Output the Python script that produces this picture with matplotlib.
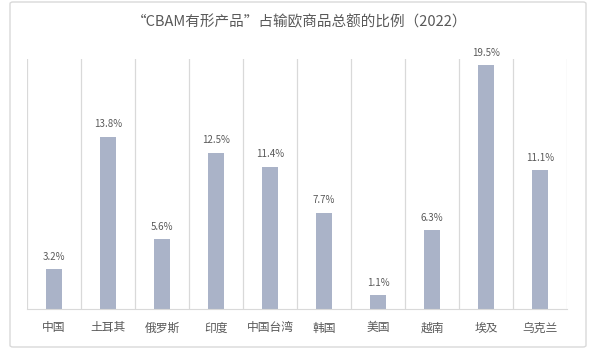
import matplotlib.pyplot as plt
import numpy as np
from matplotlib.patches import FancyBboxPatch

plt.rcParams['font.family'] = ['Noto Sans CJK SC', 'DejaVu Sans']

# datos
PAISES = ["中国", "土耳其", "俄罗斯", "印度", "中国台湾", "韩国", "美国", "越南", "埃及", "乌克兰"]
PROPORCION = [3.2, 13.8, 5.6, 12.5, 11.4, 7.7, 1.1, 6.3, 19.5, 11.1]
ETIQUETAS = ["3.2%", "13.8%", "5.6%", "12.5%", "11.4%", "7.7%", "1.1%", "6.3%", "19.5%", "11.1%"]
TITULO = "“CBAM有形产品”占输欧商品总额的比例（2022）"

COLOR_BARRA = "#aab3c8"
COLOR_TEXTO = "#595959"
COLOR_GRILLA = "#d9d9d9"

fig = plt.figure(figsize=(6.0, 3.49), dpi=100)

# marco exterior
marco = FancyBboxPatch((10 / 600, 2 / 349), 576 / 600, 345 / 349,
                       boxstyle="round,pad=0,rounding_size=0.005",
                       transform=fig.transFigure, facecolor="none",
                       edgecolor="#d9d9d9", linewidth=1.0, zorder=-1)
fig.patches.append(marco)

ax = fig.add_axes([27 / 600, 40 / 349, 540 / 600, 250 / 349])
x = np.arange(len(PAISES))
barras = ax.bar(x, PROPORCION, width=0.28, color=COLOR_BARRA, zorder=2)

for xi, v, txt in zip(x, PROPORCION, ETIQUETAS):
    ax.text(xi, v + 0.6, txt, ha="center", va="bottom", fontsize=7, color=COLOR_TEXTO)

ax.set_xlim(-0.5, len(PAISES) - 0.5)
ax.set_ylim(0, 20)
ax.set_yticks([])
ax.set_xticks(x)
ax.set_xticklabels(PAISES, fontsize=8.5, color=COLOR_TEXTO)
ax.tick_params(axis="x", length=0, pad=9)
ax.set_xticks(np.arange(-0.5, len(PAISES)), minor=True)
ax.tick_params(axis="x", which="minor", length=0)
ax.grid(axis="x", which="minor", color=COLOR_GRILLA, linewidth=0.9, zorder=0)
ax.grid(axis="x", which="major", visible=False)

for lado in ["top", "left", "right"]:
    ax.spines[lado].set_visible(False)
ax.spines["bottom"].set_color(COLOR_GRILLA)
ax.patch.set_alpha(0)

fig.text(0.5, 1 - 22 / 349, TITULO, ha="center", va="center", fontsize=10.5, color=COLOR_TEXTO)

fig.savefig("out.png", dpi=100)
